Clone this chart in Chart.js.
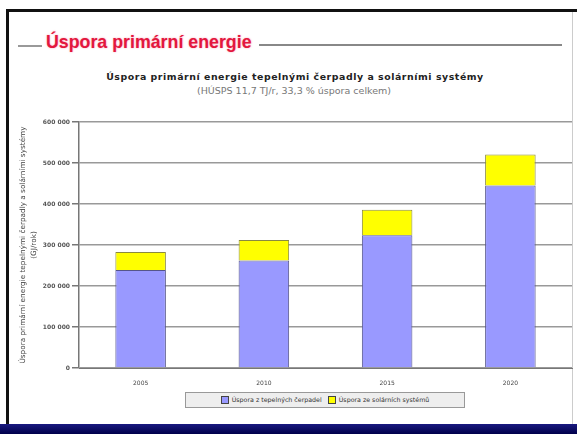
<!DOCTYPE html>
<html>
<head>
<meta charset="utf-8">
<script src="https://cdn.jsdelivr.net/npm/chart.js@4"></script>
<style>
  html, body { margin:0; padding:0; background:#fff; }
  body { width:577px; height:434px; position:relative; overflow:hidden; font-family:"Liberation Sans", Arial, sans-serif; }
  .topline { position:absolute; left:6px; top:9px; width:571px; height:3px; background:#111; }
  .leftline { position:absolute; left:6px; top:9px; width:3px; height:416px; background:#111; }
  .rightline { position:absolute; left:572px; top:12px; width:1px; height:412px; background:#ccc; }
  .navy { position:absolute; left:0; top:424px; width:577px; height:10px; background:linear-gradient(#1a1a80,#00004a); }
  .heading { position:absolute; left:46px; top:32px; font-size:17.8px; font-weight:bold; color:#e3173e; white-space:nowrap; text-shadow:0 0 2px #f7a0b5; }
  .hl1 { position:absolute; left:18px; top:45px; width:24px; height:2px; background:#999; }
  .hl2 { position:absolute; left:259px; top:44px; width:303px; height:2px; background:#888; }
  .t1 { position:absolute; left:0; width:590px; top:71px; text-align:center; font-family:"DejaVu Sans", sans-serif; font-size:9.4px; letter-spacing:0.55px; font-weight:bold; color:#222; white-space:nowrap; }
  .t2 { position:absolute; left:0; width:588px; top:85px; text-align:center; font-family:"DejaVu Sans", sans-serif; font-size:9.5px; color:#777; white-space:nowrap; }
  #wrap { position:absolute; left:0; top:100px; width:577px; height:290px; }
  #legend { position:absolute; left:185px; top:392px; width:278px; height:14px; border:1px solid #999; background:#eee; font-family:"DejaVu Sans", sans-serif; font-size:6.3px; color:#333; display:flex; align-items:center; justify-content:center; gap:6px; white-space:nowrap; }
  #legend .sw { display:inline-block; width:6px; height:6px; border:1px solid #444; margin-right:3px; vertical-align:middle; }
</style>
</head>
<body>
<div class="topline"></div>
<div class="leftline"></div>
<div class="rightline"></div>
<div class="hl1"></div>
<div class="heading">Úspora primární energie</div>
<div class="hl2"></div>
<div class="t1">Úspora primární energie tepelnými čerpadly a solárními systémy</div>
<div class="t2">(HÚSPS 11,7 TJ/r, 33,3 % úspora celkem)</div>
<div id="wrap"><canvas id="c" width="577" height="290"></canvas></div>
<div id="legend"></div>
<div class="navy"></div>
<script>
const categories = ["2005", "2010", "2015", "2020"];
const heatPumpSaving = [239000, 262000, 324000, 445000];
const solarSaving = [44000, 50000, 62000, 76000];
const seriesLabels = ["Úspora z tepelných čerpadel", "Úspora ze solárních systémů"];
const seriesColors = ["#9999ff", "#ffff00"];
const yTickValues = [0, 100000, 200000, 300000, 400000, 500000, 600000];
const yTitle = ["Úspora primární energie tepelnými čerpadly a solárními systémy", "(GJ/rok)"];

const fmt = v => v === 0 ? "0" : String(v).replace(/\B(?=(\d{3})+(?!\d))/g, " ");

new Chart(document.getElementById("c"), {
  type: "bar",
  data: {
    labels: categories,
    datasets: [
      { label: seriesLabels[0], data: heatPumpSaving, backgroundColor: seriesColors[0], borderColor: "#55558a", borderWidth: 1 },
      { label: seriesLabels[1], data: solarSaving, backgroundColor: seriesColors[1], borderColor: "#8a8a40", borderWidth: 1 }
    ]
  },
  options: {
    responsive: false,
    animation: false,
    devicePixelRatio: 1,
    layout: { padding: { left: 17, right: 5, top: 22, bottom: 0 } },
    plugins: { legend: { display: false }, tooltip: { enabled: false } },
    datasets: { bar: { barPercentage: 0.41, categoryPercentage: 1 } },
    scales: {
      x: {
        stacked: true,
        grid: { display: false },
        border: { color: "#777", width: 1 },
        ticks: { font: { size: 6, family: "DejaVu Sans" }, color: "#444", padding: 4 },
        afterFit: s => { s.height = 22; }
      },
      y: {
        stacked: true,
        min: 0, max: 600000,
        afterBuildTicks: s => { s.ticks = yTickValues.map(v => ({ value: v })); },
        grid: { color: "#999", lineWidth: 1.5, tickLength: 7, tickColor: "#777" },
        border: { color: "#777", width: 1.5 },
        ticks: { font: { size: 6, family: "DejaVu Sans", weight: "bold" }, color: "#555", padding: 2, callback: v => fmt(v) },
        title: { display: true, text: yTitle, font: { size: 7.3, family: "DejaVu Sans", lineHeight: 1.6 }, color: "#444", padding: 0 },
        afterFit: s => { s.width = 62; }
      }
    }
  }
});

const lg = document.getElementById("legend");
seriesLabels.forEach((t, i) => {
  const sp = document.createElement("span");
  sp.innerHTML = '<span class="sw" style="background:' + seriesColors[i] + '"></span>' + t;
  lg.appendChild(sp);
});
</script>
</body>
</html>
